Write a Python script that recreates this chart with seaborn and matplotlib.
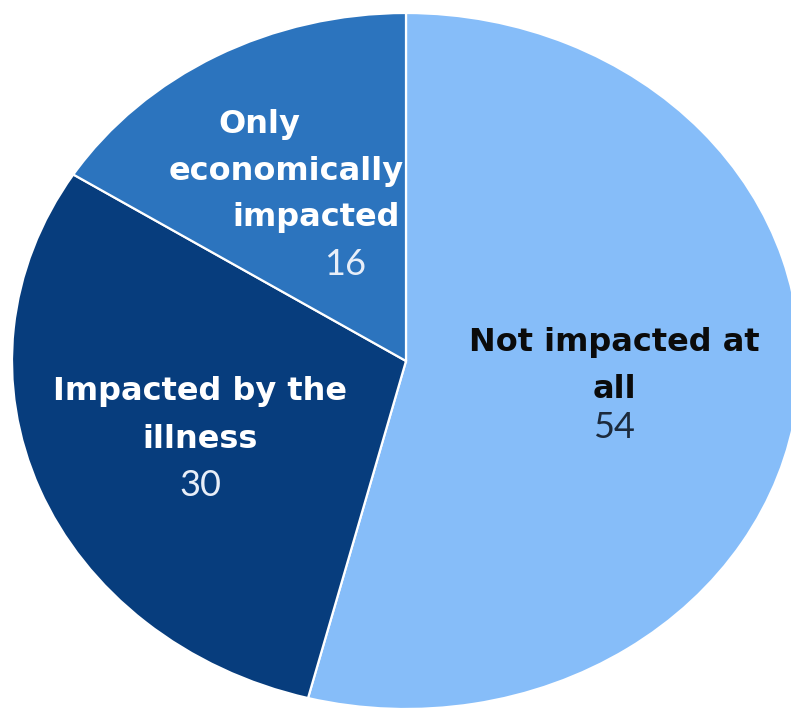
import matplotlib
matplotlib.use("Agg")
import matplotlib.pyplot as plt
import seaborn as sns

# Share of respondents by how they were impacted
categories = ["Not impacted at all", "Impacted by the illness", "Only economically impacted"]
values = [54, 30, 16]
label_lines = [["Not impacted at", "all"], ["Impacted by the", "illness"], ["Only", "economically", "impacted"]]

sns.set_theme(style="white")
plt.rcParams["font.family"] = ["DejaVu Sans"]

palette = sns.color_palette(["#86BDF9", "#073D7D", "#2C74BE"])

fig = plt.figure(figsize=(7.91, 7.13), dpi=100)
ax = fig.add_axes([0, 0, 1, 1])

wedges, _ = ax.pie(
    values,
    colors=palette,
    startangle=90,
    counterclock=False,
    radius=1.0,
    wedgeprops=dict(edgecolor="white", linewidth=1.6),
)

# Stretch the pie horizontally and let it bleed past the right and bottom edges
ax.set_aspect("auto")
px_x, px_y, cx, cy = 394.0, 348.0, 406.0, 361.0
ax.set_xlim(-cx / px_x, (791 - cx) / px_x)
ax.set_ylim(-(713 - cy) / px_y, cy / px_y)
ax.axis("off")


def to_data(px, py):
    return (px - cx) / px_x, (cy - py) / px_y


# (x, y) pixel centres for each text line of each slice
line_pos = [
    [(614, 343), (614, 390)],
    [(200, 392), (200, 440)],
    [(259, 125), (286, 172), (316, 218)],
]
value_pos = [(614, 428), (200, 485), (345, 265)]
name_colors = ["#0B0B0B", "white", "white"]
value_colors = ["#1C2A3C", "#E8EEF8", "#E8EEF8"]

for lines, positions, val, vpos, nc, vc in zip(label_lines, line_pos, values, value_pos, name_colors, value_colors):
    for text, (px, py) in zip(lines, positions):
        x, y = to_data(px, py)
        ax.text(x, y, text, ha="center", va="center", fontsize=23,
                fontweight="bold", color=nc)
    x, y = to_data(*vpos)
    ax.text(x, y, str(val), ha="center", va="center", fontsize=26,
            fontweight="normal", color=vc, family=["Lato", "DejaVu Sans"])

fig.savefig("out.png", dpi=100)
